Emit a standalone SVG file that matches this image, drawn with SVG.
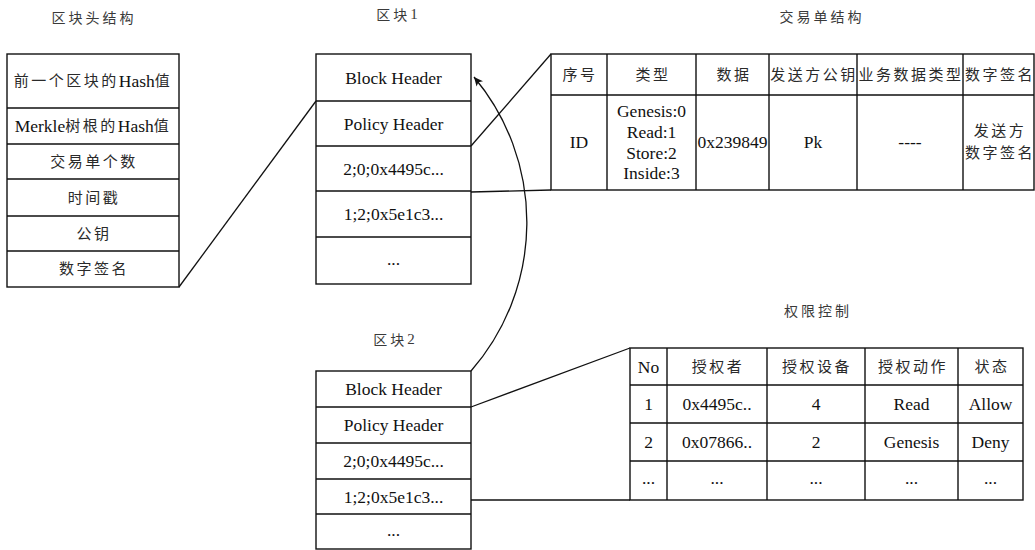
<svg xmlns="http://www.w3.org/2000/svg" width="1035" height="550" viewBox="0 0 1035 550">
  <style>
    .cell { fill: #ffffff; stroke: #111111; stroke-width: 1.4; }
    .grid { stroke: #111111; stroke-width: 1.4; fill: none; }
    .link { stroke: #111111; stroke-width: 1.3; fill: none; }
    text { font-family: "Liberation Serif", "Noto Sans CJK SC", serif; fill: #111111; text-anchor: middle; dominant-baseline: central; }
    .en { font-size: 17.5px; }
    .cn { font-size: 15px; letter-spacing: 2.5px; fill: #2a2a2a; }
    .title { font-family: "Noto Sans CJK SC", sans-serif; font-size: 14px; letter-spacing: 3px; fill: #3a3a3a; }
    .num { font-family: "Liberation Serif", serif; font-size: 15px; letter-spacing: 0; }
  </style>
  <defs>
    <marker id="arrow" markerWidth="10" markerHeight="10" refX="9" refY="5" orient="auto" markerUnits="userSpaceOnUse">
      <path d="M0,0.8 L9,5 L0,9.2 L2.2,5 Z" fill="#111111"/>
    </marker>
  </defs>

  <!-- section titles -->
  <g id="titles">
    <text class="title" x="94" y="17">区块头结构</text>
    <text class="title" x="397" y="14">区块<tspan class="num">1</tspan></text>
    <text class="title" x="822" y="16">交易单结构</text>
    <text class="title" x="818" y="310">权限控制</text>
    <text class="title" x="394" y="339">区块<tspan class="num">2</tspan></text>
  </g>

  <!-- connectors -->
  <g id="connectors">
    <line class="link" x1="179" y1="287" x2="316" y2="101"/>
    <line class="link" x1="471" y1="146" x2="551" y2="54"/>
    <line class="link" x1="471" y1="192" x2="551" y2="190"/>
    <line class="link" x1="471" y1="407" x2="630" y2="348"/>
    <line class="link" x1="471" y1="500" x2="630" y2="500"/>
    <path class="link" d="M471,371 A226,226 0 0 0 474,77" marker-end="url(#arrow)"/>
  </g>

  <!-- block header structure -->
  <g id="header-structure">
    <rect class="cell" x="7" y="54" width="172" height="233"/>
    <path class="grid" d="M7,108H179M7,144H179M7,179H179M7,216H179M7,251H179"/>
    <text x="93" y="81"><tspan class="cn">前一个区块的</tspan><tspan class="en">Hash</tspan><tspan class="cn">值</tspan></text>
    <text x="93" y="126"><tspan class="en">Merkle</tspan><tspan class="cn">树根的</tspan><tspan class="en">Hash</tspan><tspan class="cn">值</tspan></text>
    <text class="cn" x="94" y="161.5">交易单个数</text>
    <text class="cn" x="94" y="197.5">时间戳</text>
    <text class="cn" x="94" y="233.5">公钥</text>
    <text class="cn" x="94" y="269">数字签名</text>
  </g>

  <!-- block 1 -->
  <g id="block1">
    <rect class="cell" x="316" y="54" width="155" height="230"/>
    <path class="grid" d="M316,101H471M316,146H471M316,191H471M316,237H471"/>
    <text class="en" x="393.5" y="77.5">Block Header</text>
    <text class="en" x="393.5" y="123.5">Policy Header</text>
    <text class="en" x="393.5" y="168.5">2;0;0x4495c...</text>
    <text class="en" x="393.5" y="214">1;2;0x5e1c3...</text>
    <text class="en" x="393.5" y="259">...</text>
  </g>

  <!-- transaction structure -->
  <g id="transaction-structure">
    <rect class="cell" x="551" y="54" width="483" height="136"/>
    <path class="grid" d="M551,95H1034M607,54V190M696,54V190M769,54V190M857,54V190M963,54V190"/>
    <text class="cn" x="580" y="74.5">序号</text>
    <text class="cn" x="653" y="74.5">类型</text>
    <text class="cn" x="734" y="74.5">数据</text>
    <text class="cn" x="814" y="74.5">发送方公钥</text>
    <text class="cn" x="911" y="74.5">业务数据类型</text>
    <text class="cn" x="1000" y="74.5">数字签名</text>
    <text class="en" x="579" y="142">ID</text>
    <text class="en" x="651.5" y="111">Genesis:0</text>
    <text class="en" x="651.5" y="132">Read:1</text>
    <text class="en" x="651.5" y="153">Store:2</text>
    <text class="en" x="651.5" y="173">Inside:3</text>
    <text class="en" x="732.5" y="142">0x239849</text>
    <text class="en" x="813" y="142">Pk</text>
    <text class="en" x="910" y="142">----</text>
    <text class="cn" x="1000" y="131">发送方</text>
    <text class="cn" x="1000" y="153">数字签名</text>
  </g>

  <!-- block 2 -->
  <g id="block2">
    <rect class="cell" x="316" y="371" width="155" height="178"/>
    <path class="grid" d="M316,407H471M316,443H471M316,479H471M316,514H471"/>
    <text class="en" x="393.5" y="389">Block Header</text>
    <text class="en" x="393.5" y="425">Policy Header</text>
    <text class="en" x="393.5" y="461">2;0;0x4495c...</text>
    <text class="en" x="393.5" y="496.5">1;2;0x5e1c3...</text>
    <text class="en" x="393.5" y="530">...</text>
  </g>

  <!-- permission control table -->
  <g id="permission-control">
    <rect class="cell" x="630" y="348" width="393" height="152"/>
    <path class="grid" d="M630,385H1023M630,423H1023M630,461H1023M667,348V500M767,348V500M865,348V500M958,348V500"/>
    <text class="en" x="648.5" y="366.5">No</text>
    <text class="cn" x="718" y="366.5">授权者</text>
    <text class="cn" x="817" y="366.5">授权设备</text>
    <text class="cn" x="913" y="366.5">授权动作</text>
    <text class="cn" x="992" y="366.5">状态</text>
    <text class="en" x="648.5" y="404">1</text>
    <text class="en" x="717" y="404">0x4495c..</text>
    <text class="en" x="816" y="404">4</text>
    <text class="en" x="911.5" y="404">Read</text>
    <text class="en" x="990.5" y="404">Allow</text>
    <text class="en" x="648.5" y="442">2</text>
    <text class="en" x="717" y="442">0x07866..</text>
    <text class="en" x="816" y="442">2</text>
    <text class="en" x="911.5" y="442">Genesis</text>
    <text class="en" x="990.5" y="442">Deny</text>
    <text class="en" x="648.5" y="478">...</text>
    <text class="en" x="717" y="478">...</text>
    <text class="en" x="816" y="478">...</text>
    <text class="en" x="911.5" y="478">...</text>
    <text class="en" x="990.5" y="478">...</text>
  </g>
</svg>
